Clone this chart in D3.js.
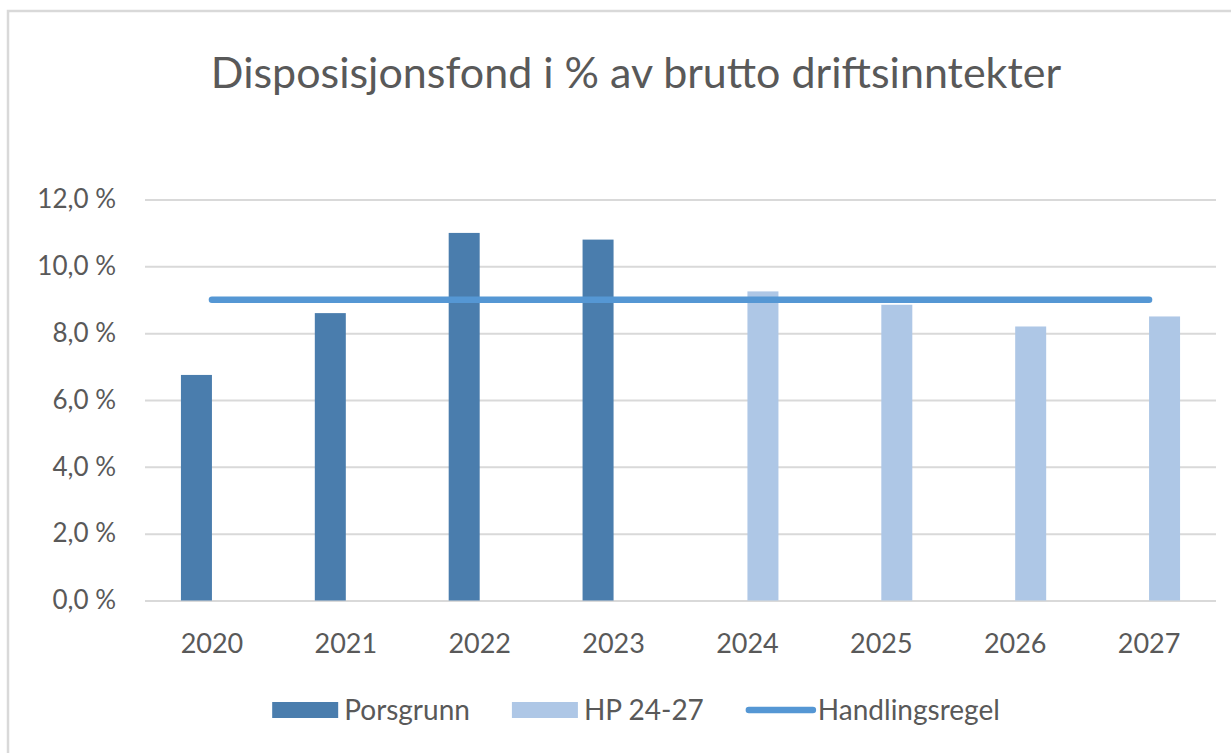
<!DOCTYPE html>
<html>
<head>
<meta charset="utf-8">
<script src="https://cdn.jsdelivr.net/npm/d3@7"></script>
<style>
  html, body { margin: 0; padding: 0; background: #fff; }
  #chart { width: 1231px; height: 753px; overflow: hidden; }
</style>
</head>
<body>
<div id="chart"></div>
<script>
const years = ["2020", "2021", "2022", "2023", "2024", "2025", "2026", "2027"];
const porsgrunn = [6.75, 8.6, 11.0, 10.8, null, null, null, null];
const hp2427 = [null, null, null, null, 9.25, 8.85, 8.2, 8.5];
const handlingsregel = [9, 9, 9, 9, 9, 9, 9, 9];
const yTicks = [0, 2, 4, 6, 8, 10, 12];
const seriesNames = ["Porsgrunn", "HP 24-27", "Handlingsregel"];
const title = "Disposisjonsfond i % av brutto driftsinntekter";

const W = 1231, H = 753;
const margin = { top: 199.5, right: 15, bottom: 152.5, left: 145 };
const width = W - margin.left - margin.right;
const height = H - margin.top - margin.bottom;
const font = "Lato, 'Open Sans', sans-serif";
const textColor = "#595959";
const colors = { "Porsgrunn": "#4a7dad", "HP 24-27": "#aec7e6", "Handlingsregel": "#5597d4" };
const chartCenter = 636;

const svg = d3.select("#chart").append("svg")
    .attr("width", W)
    .attr("height", H)
    .style("font-family", font);

// chart border (runs off the right/bottom edge in the original)
svg.append("rect")
    .attr("x", 8).attr("y", 11)
    .attr("width", 1400).attr("height", 900)
    .attr("fill", "#fff")
    .attr("stroke", "#d9d9d9")
    .attr("stroke-width", 2.5);

svg.append("text")
    .attr("x", chartCenter)
    .attr("y", 88)
    .attr("text-anchor", "middle")
    .style("font-size", "43px")
    .style("fill", textColor)
    .text(title);

const g = svg.append("g")
    .attr("transform", `translate(${margin.left},${margin.top})`);

const x = d3.scaleBand().domain(years).range([0, width]).padding(0);
const barW = 31;
const xSub = d3.scaleBand()
    .domain(["Porsgrunn", "HP 24-27"])
    .range([x.bandwidth() / 2 - barW, x.bandwidth() / 2 + barW]);
const y = d3.scaleLinear().domain([0, 12]).range([height, 0]);

// gridlines
g.append("g")
    .call(d3.axisLeft(y).tickValues(yTicks).tickSize(-width).tickFormat(""))
    .call(s => s.select(".domain").remove())
    .selectAll(".tick line")
    .attr("stroke", "#d9d9d9")
    .attr("stroke-width", 2);

// y labels
g.append("g")
    .call(d3.axisLeft(y).tickValues(yTicks).tickSize(0).tickPadding(29)
        .tickFormat(d => d.toFixed(1).replace(".", ",") + " %"))
    .call(s => s.select(".domain").remove())
    .selectAll("text")
    .style("font-family", font)
    .style("font-size", "26px")
    .style("fill", textColor);

// x labels
g.append("g")
    .attr("transform", `translate(0,${height})`)
    .call(d3.axisBottom(x).tickSize(0).tickPadding(33))
    .call(s => s.select(".domain").remove())
    .selectAll("text")
    .style("font-family", font)
    .style("font-size", "27px")
    .style("fill", textColor);

const barData = [];
years.forEach((yr, i) => {
    if (porsgrunn[i] != null) barData.push({ year: yr, series: "Porsgrunn", value: porsgrunn[i] });
    if (hp2427[i] != null) barData.push({ year: yr, series: "HP 24-27", value: hp2427[i] });
});

g.selectAll("rect.bar")
    .data(barData)
    .enter()
    .append("rect")
    .attr("class", "bar")
    .attr("x", d => x(d.year) + xSub(d.series))
    .attr("y", d => y(d.value))
    .attr("width", xSub.bandwidth())
    .attr("height", d => y(0) - y(d.value))
    .attr("fill", d => colors[d.series]);

const line = d3.line()
    .x(d => x(d.year) + x.bandwidth() / 2)
    .y(d => y(d.value));

g.append("path")
    .datum(years.map((yr, i) => ({ year: yr, value: handlingsregel[i] })))
    .attr("d", line)
    .attr("fill", "none")
    .attr("stroke", colors["Handlingsregel"])
    .attr("stroke-width", 6.5)
    .attr("stroke-linecap", "round");

// legend
const legendY = 710;
const legend = svg.append("g");
let cursor = 0;
seriesNames.forEach((name, i) => {
    const item = legend.append("g").attr("transform", `translate(${cursor},0)`);
    if (name === "Handlingsregel") {
        item.append("line")
            .attr("x1", 3).attr("x2", 67)
            .attr("y1", legendY).attr("y2", legendY)
            .attr("stroke", colors[name])
            .attr("stroke-width", 6.5)
            .attr("stroke-linecap", "round");
    } else {
        item.append("rect")
            .attr("x", 0).attr("y", legendY - 8)
            .attr("width", 66).attr("height", 16)
            .attr("fill", colors[name]);
    }
    const t = item.append("text")
        .attr("x", 72)
        .attr("y", legendY)
        .attr("dy", "0.35em")
        .style("font-size", "28px")
        .style("fill", textColor)
        .text(name);
    cursor += 72 + t.node().getComputedTextLength() + 42;
});
const legendWidth = cursor - 42;
legend.attr("transform", `translate(${chartCenter - legendWidth / 2},0)`);
</script>
</body>
</html>
